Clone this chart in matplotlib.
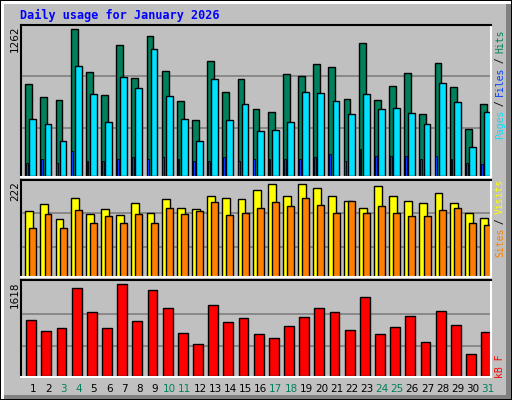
import matplotlib
matplotlib.use("Agg")
import matplotlib.pyplot as plt
from matplotlib.patches import Rectangle
import numpy as np

days = list(range(1, 32))
weekend = [3, 4, 10, 11, 17, 18, 24, 25, 31]
hits = [789,677,651,1262,892,694,1124,840,1202,901,643,479,987,720,832,574,548,875,858,961,935,660,1142,651,772,884,531,970,763,402,617]
files = [488,453,299,944,703,470,849,754,1090,686,488,299,832,479,617,385,393,462,720,712,643,531,703,574,582,539,445,798,634,247,548]
pages = [118,152,118,221,135,127,152,161,144,161,144,135,127,161,135,152,144,144,152,161,187,135,230,170,178,170,152,170,152,118,101]
visits = [157,174,138,188,150,162,147,176,152,186,166,162,193,188,186,208,222,195,222,212,193,183,164,217,193,183,176,200,176,152,142]
sites = [118,150,118,159,130,145,130,150,130,166,150,157,179,147,152,166,179,169,188,171,152,181,152,169,152,145,145,159,164,128,123]
kbytes = [996,800,853,1547,1138,853,1618,978,1511,1209,765,569,1245,960,1031,747,676,889,1049,1209,1138,818,1387,747,871,1067,605,1156,907,391,782]

W, H = 512, 400
fig = plt.figure(figsize=(W/100, H/100), dpi=100)
bg = fig.add_axes([0, 0, 1, 1])
bg.set_xlim(0, W); bg.set_ylim(H, 0); bg.axis("off")
bg.add_patch(Rectangle((0, 0), W, H, facecolor="black"))
bg.add_patch(Rectangle((1, 1), W-2, H-2, facecolor="white"))
bg.add_patch(Rectangle((4, 4), W-5, H-5, facecolor="#808080"))
bg.add_patch(Rectangle((4, 4), W-10, H-9, facecolor="#C0C0C0"))
bg.text(20, 15, "Daily usage for January 2026", color="#0000FF", fontsize=8.5,
        fontweight="bold", family="DejaVu Sans Mono", va="center", ha="left")

x0, x1 = 20.7, 490.7
n = len(days)
x = np.arange(n)

def panel(top, bottom):
    ax = fig.add_axes([x0/W, 1-bottom/H, (x1-x0)/W, (bottom-top)/H])
    ax.set_facecolor("#C0C0C0")
    ax.set_xlim(0, n)
    for s in ("left", "top"):
        ax.spines[s].set_color("black"); ax.spines[s].set_linewidth(1.5)
    for s in ("right", "bottom"):
        ax.spines[s].set_color("white"); ax.spines[s].set_linewidth(1.5)
    ax.set_xticks([]); ax.set_yticks([])
    return ax

def grid(ax, ymax, fr):
    for f in fr:
        ax.axhline(f*ymax, color="#808080", lw=1.2, zorder=0)

ek = dict(edgecolor="black", linewidth=1.0, align="edge")
ax1 = panel(25, 177)
ym1 = max(hits) * (176-25)/146.7
ax1.set_ylim(-ym1*0.005, ym1)
grid(ax1, ym1, [0.32, 0.66])
ax1.bar(x+0.30, hits, 0.45, color="#00805C", **ek)
ax1.bar(x+0.57, files, 0.45, color="#00E0FF", **ek)
ax1.bar(x+0.35, pages, 0.12, color="#0040FF", edgecolor="black", linewidth=0.6, align="edge")

ax2 = panel(180, 277)
ym2 = max(visits) * (276.3-180)/92
ax2.set_ylim(-ym2*0.005, ym2)
grid(ax2, ym2, [0.31, 0.655])
ax2.bar(x+0.30, visits, 0.52, color="#FFFF00", **ek)
ax2.bar(x+0.57, sites, 0.46, color="#FF8000", **ek)

ax3 = panel(280, 376.5)
ym3 = max(kbytes) * (375.3-280)/91
ax3.set_ylim(-ym3*0.005, ym3)
grid(ax3, ym3, [0.31, 0.65])
ax3.bar(x+0.37, kbytes, 0.65, color="#FF0000", **ek)

for i, d in enumerate(days):
    xp = x0 + (i + 0.83) * (x1-x0)/n
    bg.text(xp, 389, str(d), ha="center", va="center", fontsize=7.5,
            color="#00805C" if d in weekend else "black")

for y, s in [(26, "1262"), (181, "222"), (281, "1618")]:
    bg.text(15, y, s, rotation=90, ha="center", va="top", fontsize=7.5)

def vlabel(ybottom, parts):
    y = ybottom
    for s, c in parts:
        bg.text(500, y, s, rotation=90, ha="center", va="bottom", fontsize=7,
                color=c, family="DejaVu Sans Mono")
        y -= len(s) * 5.4

vlabel(139, [("Pages", "#00E0FF"), (" / ", "black"), ("Files", "#0040FF"), (" / ", "black"), ("Hits", "#00805C")])
vlabel(257, [("Sites", "#FF8000"), (" / ", "black"), ("Visits", "#FFFF00")])
vlabel(378, [("kB F", "#FF0000")])

fig.savefig("out.png", dpi=100)
